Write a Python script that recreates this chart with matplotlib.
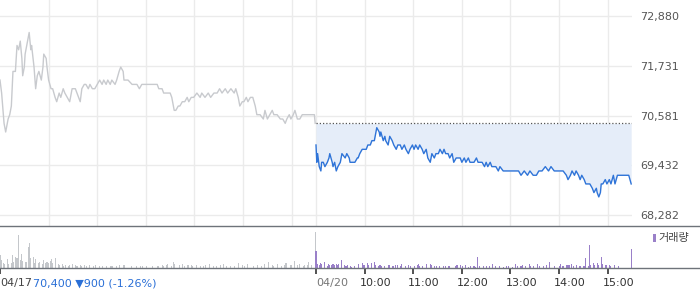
import matplotlib
matplotlib.use("Agg")
import matplotlib.pyplot as plt
import matplotlib.transforms as mtransforms
from matplotlib.lines import Line2D
from matplotlib.patches import Rectangle

plt.rcParams['font.family'] = ['DejaVu Sans', 'Noto Sans CJK KR']

# --- data: minutes since 09:00 of each session ---
day1_min = [0, 2, 5, 7, 10, 12, 14, 16, 19, 21,
            23, 25, 27, 28, 30, 31, 33, 36, 37, 38,
            39, 42, 44, 46, 48, 51, 53, 54, 57, 58,
            60, 63, 65, 68, 70, 73, 75, 78, 80, 83,
            86, 89, 93, 95, 99, 101, 104, 106, 109, 111,
            114, 117, 120, 123, 126, 128, 131, 133, 136, 138,
            142, 144, 147, 149, 152, 153, 158, 163, 167, 169,
            172, 175, 179, 183, 185, 188, 191, 194, 196, 200,
            202, 205, 207, 210, 212, 215, 217, 220, 222, 225,
            228, 231, 233, 236, 239, 243, 247, 249, 253, 257,
            260, 264, 268, 271, 274, 278, 281, 285, 289, 291,
            294, 296, 299, 301, 304, 306, 309, 312, 315, 317,
            321, 325, 327, 330, 333, 336, 338, 342, 346, 349,
            352, 354, 357, 359, 362, 364, 367, 370, 373, 376,
            383, 388, 389]
day1_price = [71400, 71100, 70400, 70200, 70500, 70600, 70800, 71600, 71600, 72200,
              72100, 72300, 71900, 71500, 71700, 72000, 72200, 72500, 72300, 72100,
              72200, 71700, 71200, 71500, 71600, 71400, 71700, 72000, 71900, 71700,
              71400, 71200, 71200, 71000, 70900, 71100, 71000, 71200, 71100, 71000,
              70900, 71200, 71200, 71100, 70900, 71200, 71300, 71300, 71200, 71300,
              71200, 71200, 71300, 71400, 71300, 71400, 71300, 71400, 71300, 71400,
              71300, 71400, 71600, 71700, 71600, 71400, 71400, 71300, 71300, 71300,
              71200, 71300, 71300, 71300, 71300, 71300, 71300, 71300, 71200, 71200,
              71100, 71100, 71100, 71100, 71000, 70700, 70700, 70800, 70800, 70900,
              70900, 71000, 70900, 71000, 71000, 71100, 71000, 71100, 71000, 71100,
              71000, 71100, 71100, 71200, 71100, 71200, 71100, 71200, 71100, 71200,
              71000, 70800, 70900, 70900, 71000, 70900, 71000, 71000, 70800, 70600,
              70600, 70500, 70700, 70500, 70600, 70700, 70600, 70600, 70500, 70500,
              70400, 70500, 70600, 70500, 70600, 70700, 70500, 70500, 70600, 70600,
              70600, 70600, 70400]

day2_min = [0, 1, 2, 4, 6, 7, 9, 11, 14, 16,
            17, 20, 21, 23, 25, 27, 30, 32, 36, 38,
            41, 42, 46, 48, 51, 52, 54, 57, 59, 62,
            64, 67, 69, 72, 74, 75, 78, 79, 80, 83,
            85, 86, 89, 91, 94, 96, 99, 101, 104, 106,
            109, 111, 114, 116, 119, 121, 123, 126, 128, 131,
            133, 136, 138, 141, 143, 146, 148, 151, 153, 156,
            158, 160, 163, 165, 168, 170, 173, 175, 178, 180,
            183, 185, 188, 190, 193, 195, 198, 200, 203, 205,
            208, 210, 212, 215, 217, 220, 222, 225, 227, 231,
            235, 238, 242, 246, 250, 253, 257, 261, 264, 268,
            272, 275, 279, 283, 287, 290, 294, 298, 301, 305,
            309, 311, 314, 316, 319, 321, 324, 326, 328, 331,
            333, 336, 338, 341, 343, 346, 347, 349, 351, 352,
            354, 357, 359, 362, 364, 367, 369, 372, 374, 377,
            380, 384, 386, 389]
day2_price = [69900, 69500, 69700, 69400, 69300, 69500, 69500, 69400, 69500, 69600,
              69700, 69500, 69400, 69500, 69300, 69400, 69500, 69700, 69600, 69700,
              69600, 69500, 69500, 69500, 69600, 69600, 69700, 69800, 69800, 69800,
              69900, 69900, 70000, 70000, 70200, 70300, 70200, 70100, 70200, 70000,
              70100, 70000, 69900, 70100, 70000, 69900, 69800, 69900, 69900, 69800,
              69900, 69800, 69700, 69800, 69900, 69800, 69900, 69800, 69900, 69800,
              69700, 69800, 69600, 69500, 69700, 69600, 69700, 69700, 69800, 69700,
              69800, 69700, 69700, 69600, 69700, 69500, 69600, 69600, 69600, 69500,
              69600, 69500, 69600, 69500, 69500, 69500, 69600, 69500, 69500, 69500,
              69400, 69500, 69400, 69500, 69400, 69400, 69400, 69300, 69400, 69300,
              69300, 69300, 69300, 69300, 69300, 69200, 69300, 69200, 69300, 69200,
              69200, 69300, 69300, 69400, 69300, 69400, 69300, 69300, 69300, 69300,
              69200, 69100, 69200, 69300, 69200, 69300, 69200, 69100, 69200, 69100,
              69000, 69000, 69000, 68900, 68800, 68900, 68800, 68700, 68800, 69000,
              69000, 69100, 69000, 69100, 69000, 69200, 69000, 69200, 69200, 69200,
              69200, 69200, 69200, 69000]

prev_close = 70400

day1_vol_min = [0, 1, 2, 4, 6, 9, 11, 14, 16, 17,
                19, 21, 23, 25, 26, 27, 28, 31, 33, 35,
                36, 37, 38, 41, 43, 44, 47, 48, 49, 52,
                54, 56, 58, 60, 62, 64, 65, 68, 69, 72,
                74, 77, 78, 81, 84, 86, 89, 90, 93, 95,
                99, 101, 104, 107, 111, 115, 118, 123, 127, 132,
                137, 139, 144, 148, 152, 154, 162, 168, 173, 176,
                181, 188, 195, 200, 202, 205, 207, 212, 214, 215,
                221, 225, 228, 232, 236, 238, 242, 247, 251, 254,
                259, 263, 267, 272, 276, 280, 285, 289, 294, 299,
                302, 305, 313, 318, 323, 327, 331, 336, 338, 343,
                347, 351, 353, 358, 360, 363, 367, 370, 374, 376,
                379, 381, 384, 389]
day1_vol = [13, 11, 8, 5, 4, 9, 4, 5, 13, 6,
            11, 10, 33, 8, 14, 10, 7, 6, 6, 21,
            25, 10, 8, 11, 5, 9, 5, 4, 6, 4,
            8, 5, 6, 5, 7, 9, 5, 4, 10, 4,
            3, 4, 2, 3, 2, 3, 4, 2, 3, 2,
            3, 2, 3, 2, 3, 2, 3, 2, 2, 2,
            2, 2, 2, 3, 3, 3, 2, 2, 2, 2,
            2, 2, 2, 3, 2, 3, 4, 2, 6, 4,
            3, 4, 2, 3, 3, 2, 3, 2, 2, 3,
            4, 2, 2, 3, 4, 2, 2, 2, 5, 3,
            2, 4, 2, 3, 2, 4, 6, 3, 2, 4,
            2, 3, 5, 3, 3, 7, 3, 4, 2, 3,
            3, 6, 3, 36]

day2_vol_min = [0, 1, 2, 4, 6, 7, 10, 11, 14, 15,
                17, 19, 21, 23, 25, 26, 28, 31, 32, 35,
                37, 39, 42, 44, 47, 52, 53, 57, 58, 60,
                63, 65, 68, 69, 72, 74, 77, 79, 81, 85,
                89, 91, 95, 98, 101, 104, 106, 110, 114, 117,
                121, 125, 126, 128, 132, 136, 141, 142, 146, 149,
                153, 157, 160, 163, 165, 172, 174, 178, 181, 185,
                188, 191, 195, 197, 199, 202, 207, 210, 214, 218,
                222, 227, 231, 235, 238, 242, 246, 249, 253, 255,
                259, 263, 265, 269, 273, 276, 281, 285, 288, 294,
                300, 302, 304, 306, 309, 311, 313, 315, 318, 321,
                325, 327, 330, 332, 333, 336, 337, 339, 342, 344,
                347, 349, 352, 354, 357, 359, 362, 364, 368, 373,
                389]
day2_vol = [17, 5, 4, 3, 5, 4, 6, 3, 2, 4,
            3, 3, 4, 3, 4, 3, 4, 8, 3, 3,
            2, 3, 2, 1, 2, 4, 3, 5, 3, 3,
            5, 3, 4, 5, 6, 3, 2, 3, 2, 2,
            3, 3, 2, 3, 3, 2, 4, 2, 3, 2,
            2, 3, 4, 2, 2, 4, 4, 3, 2, 2,
            2, 2, 2, 2, 2, 2, 3, 3, 2, 3,
            1, 2, 2, 1, 11, 2, 2, 2, 2, 4,
            2, 2, 1, 2, 2, 1, 4, 2, 2, 3,
            2, 4, 2, 2, 4, 2, 2, 3, 6, 2,
            2, 4, 2, 2, 3, 3, 3, 4, 2, 3,
            2, 2, 2, 2, 10, 2, 23, 3, 5, 3,
            5, 3, 11, 4, 3, 3, 3, 2, 3, 2,
            19]

ytick_vals = [68282, 69432, 70581, 71731, 72880]
hour_labels = ["10:00", "11:00", "12:00", "13:00", "14:00", "15:00"]
session_len = 390

W, H = 700, 289
fig = plt.figure(figsize=(W / 100, H / 100), dpi=100)
ax = fig.add_axes([0, 1 - 226 / H, 632 / W, 226 / H])
axv = fig.add_axes([0, 1 - 268 / H, 632 / W, 42 / H])

day2_x = [m + session_len for m in day2_min]

# price panel
ax.plot(day1_min, day1_price, color='#c8cace', lw=1.0)
ax.fill_between(day2_x, day2_price, prev_close, color='#e5edf9', lw=0)
ax.hlines(prev_close, session_len, 2 * session_len, colors='#555555',
          linestyles=(0, (1, 1.6)), lw=0.9)
ax.plot(day2_x, day2_price, color='#2f74d8', lw=1.0)

grid_x = [60 * i for i in range(1, 7)] + [session_len] + \
         [session_len + 60 * i for i in range(1, 7)]
ax.set_xlim(0, 2 * session_len)
ax.set_ylim(68028, 73250)
ax.set_xticks(grid_x)
ax.set_yticks(ytick_vals)
ax.set_yticklabels([f"{v:,}" for v in ytick_vals])
ax.yaxis.tick_right()
ax.tick_params(axis='x', length=0, labelbottom=False)
ax.tick_params(axis='y', length=0, pad=6, labelsize=8, labelcolor='#555555')
ax.grid(True, color='#ebebeb', lw=1)
ax.set_axisbelow(True)
for s in ax.spines.values():
    s.set_visible(False)

# volume panel
axv.bar(day1_vol_min, day1_vol, width=1.3, color='#c4c7cb', lw=0,
        antialiased=False)
axv.bar([m + session_len for m in day2_vol_min], day2_vol, width=1.3,
        color='#9a80c9', lw=0, antialiased=False)
axv.set_xlim(0, 2 * session_len)
axv.set_ylim(0, 42)
axv.set_yticks([])
vol_ticks = [0, session_len] + [session_len + 60 * i for i in range(1, 7)]
axv.set_xticks(vol_ticks)
axv.set_xticklabels([])
axv.tick_params(axis='x', direction='out', length=4, width=1.2, color='#333333')
for s in axv.spines.values():
    s.set_visible(False)

# panel frame lines over full width
for ypx in (226, 268):
    fig.add_artist(Line2D([0, 1], [1 - ypx / H] * 2, transform=fig.transFigure,
                          color='#6e737a', lw=1))

# bottom labels
ty = 1 - 283 / H
fig.text(0, ty, "04/17", fontsize=8, color='#444444', va='center', ha='left')
fig.text(33 / W, ty, "70,400 \u25bc900 (-1.26%)", fontsize=8, color='#2a6fd6',
         va='center', ha='left')
trans = mtransforms.blended_transform_factory(axv.transData, fig.transFigure)
shift = mtransforms.ScaledTranslation(-5 / 100, 0, fig.dpi_scale_trans)
axv.text(session_len, ty, "04/20", fontsize=8, color='#777777', va='center',
         ha='left', transform=trans)
for i, lab in enumerate(hour_labels):
    axv.text(session_len + 60 * (i + 1), ty, lab, fontsize=8, color='#333333',
             va='center', ha='left', transform=trans + shift)

# legend
fig.add_artist(Rectangle((653 / W, 1 - 242 / H), 3 / W, 8 / H,
                         transform=fig.transFigure, color='#9a80c9', lw=0))
fig.text(658 / W, 1 - 238 / H, "거래량", fontsize=8, color='#444444',
         va='center', ha='left', family=['Noto Sans CJK KR', 'DejaVu Sans'])

fig.savefig("out.png", dpi=100)
